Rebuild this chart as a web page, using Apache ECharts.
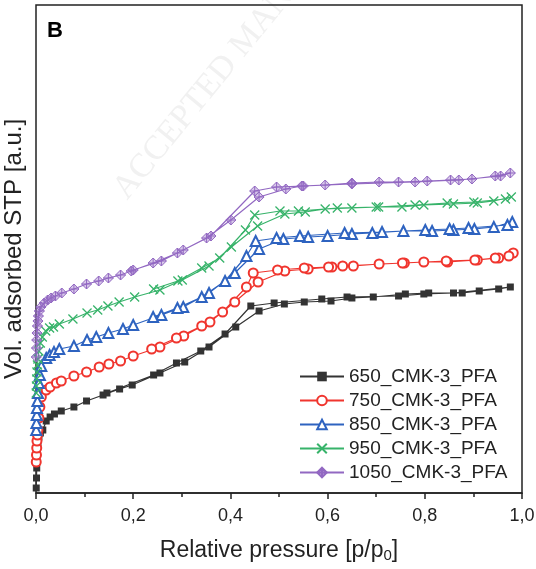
<!DOCTYPE html>
<html><head><meta charset="utf-8">
<script src="https://cdn.jsdelivr.net/npm/echarts@6/dist/echarts.min.js"></script>
<style>html,body{margin:0;padding:0;background:#fff}#c{width:536px;height:569px}</style>
</head><body><div id="c"></div>
<script>
// Relative pressure ticks
var xTicks = [0, 0.2, 0.4, 0.6, 0.8, 1.0];
var seriesNames = ['650_CMK-3_PFA', '750_CMK-3_PFA', '850_CMK-3_PFA', '950_CMK-3_PFA', '1050_CMK-3_PFA'];

// 650 (adsorption / desorption), volume in arbitrary units
var p650Ads = [0.0005,0.001,0.0015,0.002,0.003,0.004,0.006,0.009,0.014,0.021,0.029,0.038,0.052,0.078,0.104,0.138,0.172,0.198,0.255,0.306,0.356,0.411,0.459,0.511,0.552,0.607,0.650,0.694,0.760,0.808,0.877,0.912,0.952,0.976];
var v650Ads = [5,15,25,33,42,50,56,60,63,72,76,79,82,86,92,98,104,108,120,131,146,166,182,189,191,192,195,196,199,200,200,202,204,206];
var p650Des = [0.859,0.798,0.746,0.640,0.588,0.490,0.442,0.389,0.339,0.289,0.242,0.146];
var v650Des = [200,199,197,196,194,190,187,159,142,130,118,100];

// 750
var p750Ads = [0.0005,0.001,0.0015,0.002,0.003,0.004,0.006,0.008,0.011,0.021,0.029,0.042,0.052,0.078,0.104,0.130,0.150,0.174,0.200,0.255,0.304,0.358,0.409,0.457,0.512,0.560,0.609,0.653,0.706,0.758,0.798,0.847,0.908,0.952,0.982];
var v750Ads = [31,38,45,52,58,63,75,86,96,103,106,110,112,117,121,126,129,132,137,146,157,171,191,211,222,224,226,227,229,230,231,231,233,235,240];
var p750Des = [0.973,0.945,0.903,0.844,0.754,0.631,0.602,0.552,0.497,0.447,0.433,0.384,0.341,0.289,0.238];
var v750Des = [237,235,233,232,230,227,226,225,223,220,206,181,167,155,144];

// 850
var p850Ads = [0.0005,0.001,0.0015,0.002,0.003,0.004,0.006,0.008,0.011,0.021,0.028,0.037,0.048,0.078,0.105,0.124,0.149,0.179,0.200,0.258,0.303,0.356,0.409,0.459,0.509,0.560,0.600,0.650,0.692,0.756,0.815,0.859,0.902,0.942,0.980];
var v850Ads = [63,70,78,85,92,100,110,118,127,135,138,141,144,147,153,156,160,164,168,178,186,200,220,244,254,256,257,259,260,262,262,263,264,266,271];
var p850Des = [0.970,0.890,0.851,0.801,0.712,0.635,0.543,0.495,0.452,0.433,0.389,0.341,0.291,0.241];
var v850Des = [268,265,264,263,261,260,257,255,252,237,212,196,185,176];

// 950
var p950Ads = [0.0005,0.001,0.0015,0.002,0.003,0.004,0.006,0.009,0.013,0.020,0.028,0.036,0.048,0.076,0.105,0.127,0.148,0.171,0.203,0.255,0.301,0.356,0.402,0.456,0.512,0.554,0.595,0.650,0.705,0.753,0.798,0.859,0.908,0.942,0.978];
var v950Ads = [100,107,114,121,128,134,142,150,156,162,165,166,169,174,180,183,187,191,196,203,213,227,246,267,279,281,284,285,286,286,288,289,290,292,296];
var p950Des = [0.966,0.901,0.846,0.780,0.700,0.620,0.540,0.502,0.450,0.431,0.378,0.341,0.292,0.242];
var v950Des = [294,291,290,288,286,285,282,282,278,263,235,225,212,204];

// 1050
var p1050Ads = [0.0005,0.001,0.0015,0.002,0.003,0.004,0.005,0.007,0.010,0.017,0.024,0.031,0.040,0.053,0.078,0.104,0.129,0.149,0.174,0.196,0.241,0.291,0.351,0.401,0.459,0.514,0.547,0.595,0.650,0.706,0.746,0.805,0.853,0.897,0.945,0.976];
var v1050Ads = [136,145,153,160,167,172,177,182,186,190,193,195,197,200,204,209,212,215,218,222,230,240,255,273,296,304,307,308,310,311,311,312,313,314,317,320];
var p1050Des = [0.956,0.870,0.780,0.650,0.550,0.495,0.450,0.360,0.303,0.258,0.200];
var v1050Des = [317,313,311,309,307,306,302,257,243,232,223];

function pairs(ps, vs){ return ps.map(function(p,i){ return [p, vs[i]]; }); }
function iso(pa, va, pd, vd){ return pairs(pa, va).concat(pairs(pd, vd)); }

var FONT = 'Liberation Sans, Arial, sans-serif';
var colors = ['#333333', '#f0352e', '#2e63c0', '#37b36a', '#9268c2'];
var XPATH = 'path://M0,0 L10,10 M10,0 L0,10';
var DPATH = 'path://M5,0 L10,5 L5,10 L0,5 Z M5,0 L5,10 M0,5 L10,5';

var chart = echarts.init(document.getElementById('c'), null, {renderer: 'canvas'});
chart.setOption({
  animation: false,
  backgroundColor: '#fff',
  grid: {left: 36, right: 14, top: 5, bottom: 76, show: true, borderColor: '#222', borderWidth: 1.5,
         backgroundColor: 'transparent', outerBoundsMode: 'none', containLabel: false},
  graphic: [
    {type: 'text', left: 47, top: 20, z: 10, style: {text: 'B', font: 'bold 22px ' + FONT, fill: '#000'}},
    {type: 'text', x: 120, y: 195, rotation: 0.885, z: -1, silent: true,
     style: {text: 'ACCEPTED MANUSCRIPT', font: '34px Liberation Serif, DejaVu Serif, serif', fill: '#f1f1f1', textVerticalAlign: 'middle', textAlign: 'left'}}
  ],
  legend: {
    orient: 'vertical', left: 294, top: 362, itemWidth: 44, itemHeight: 12, itemGap: 5,
    data: seriesNames,
    textStyle: {fontFamily: FONT, fontSize: 19, color: '#222', padding: [0,0,0,0]}
  },
  xAxis: {
    type: 'value', min: 0, max: 1, interval: 0.2,
    axisLine: {show: true, lineStyle: {color: '#222', width: 1.5}},
    axisTick: {show: true, inside: false, length: 6, lineStyle: {color: '#222', width: 1.5}},
    minorTick: {show: true, splitNumber: 2, length: 4, lineStyle: {color: '#222', width: 1.5}},
    splitLine: {show: false},
    axisLabel: {fontFamily: FONT, fontSize: 18, color: '#222', margin: 14,
      formatter: function(v){ return v.toFixed(1).replace('.', ','); }},
    name: 'Relative pressure [p/p{s|0}]', nameLocation: 'middle', nameGap: 45,
    nameTextStyle: {fontFamily: FONT, fontSize: 23, color: '#222',
      rich: {s: {fontFamily: FONT, fontSize: 15, color: '#222', verticalAlign: 'bottom', padding: [10,0,0,0]}}}
  },
  yAxis: {
    type: 'value', min: 0, max: 488,
    axisLine: {show: false}, axisTick: {show: false}, axisLabel: {show: false}, splitLine: {show: false},
    name: 'Vol. adsorbed STP [a.u.]', nameLocation: 'middle', nameGap: 10, nameRotate: 90,
    nameTextStyle: {fontFamily: FONT, fontSize: 24, color: '#222'}
  },
  series: [
    {name: seriesNames[0], type: 'line', data: iso(p650Ads, v650Ads, p650Des, v650Des),
     symbol: 'rect', symbolSize: 7, itemStyle: {color: '#333'}, lineStyle: {color: '#333', width: 1.2}},
    {name: seriesNames[1], type: 'line', data: iso(p750Ads, v750Ads, p750Des, v750Des),
     symbol: 'emptyCircle', symbolSize: 9, itemStyle: {color: colors[1], borderWidth: 1.2}, lineStyle: {color: colors[1], width: 1.2}},
    {name: seriesNames[2], type: 'line', data: iso(p850Ads, v850Ads, p850Des, v850Des),
     symbol: 'emptyTriangle', symbolSize: 10, itemStyle: {color: colors[2], borderWidth: 1.3}, lineStyle: {color: colors[2], width: 1.2}},
    {name: seriesNames[3], type: 'line', data: iso(p950Ads, v950Ads, p950Des, v950Des),
     symbol: XPATH, symbolSize: 9, itemStyle: {color: 'rgba(0,0,0,0)', borderColor: colors[3], borderWidth: 1.3}, lineStyle: {color: colors[3], width: 1.2}},
    {name: seriesNames[4], type: 'line', data: iso(p1050Ads, v1050Ads, p1050Des, v1050Des),
     symbol: DPATH, symbolSize: 10, itemStyle: {color: 'rgba(146,104,194,0.35)', borderColor: colors[4], borderWidth: 1}, lineStyle: {color: colors[4], width: 1.2}}
  ]
});
</script></body></html>
